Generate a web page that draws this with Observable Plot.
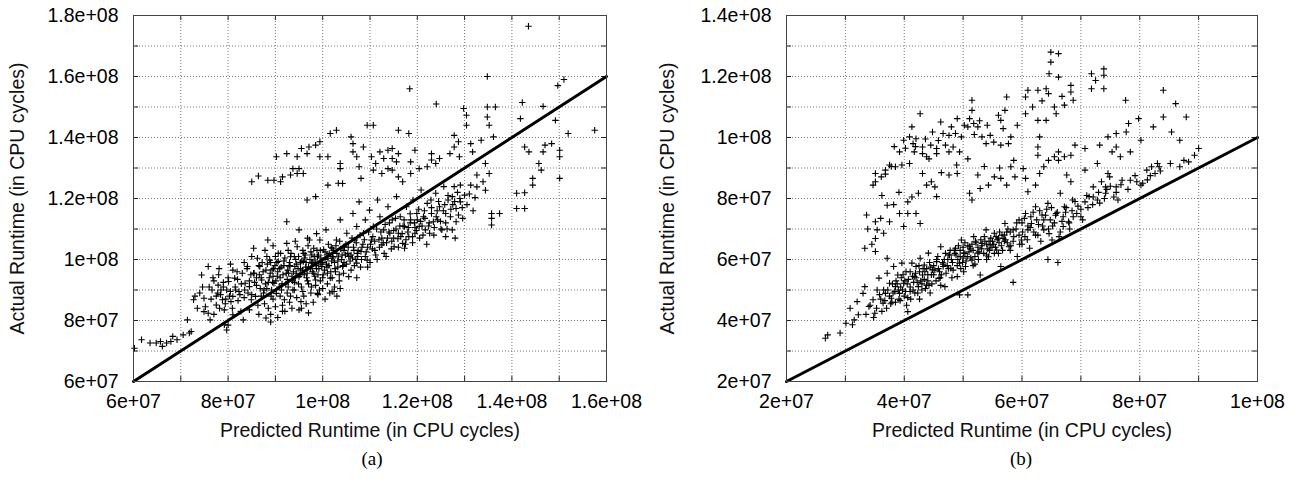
<!DOCTYPE html>
<html><head><meta charset="utf-8">
<script src="https://cdn.jsdelivr.net/npm/d3@7"></script>
<script src="https://cdn.jsdelivr.net/npm/@observablehq/plot@0.6"></script>
<style>
body{margin:0;background:#fff;}
#wrap{position:relative;width:1300px;height:485px;overflow:hidden;background:#fff;}
.panel{position:absolute;top:0;}
.cap{position:absolute;top:448px;font-family:"Liberation Serif","Times New Roman",serif;font-size:19px;transform:translateX(-50%);color:#000;}
</style></head><body>
<div id="wrap">
 <div class="panel" id="pa" style="left:0"></div>
 <div class="panel" id="pb" style="left:650px"></div>
 <div class="cap" style="left:372px">(a)</div>
 <div class="cap" style="left:1021px">(b)</div>
</div>
<script>
// Values in millions of CPU cycles: [predicted, actual]
const pointsA = [
[143.5,176.5],[134.8,160],[118.4,156],[124,151],[129.8,149.5],[134.8,150],[136.5,150],[142.2,151.5],[146.6,150.2],[151,159],[149.7,157],[157.5,142.4],[149.2,145.6],[141.8,146.2],[130.4,147.3],[130.4,144],[127.8,140.7],[128.7,138.6],[134.8,146.7],[135.2,144],[136.1,140.2],[133.5,139.1],[131.3,138],[127.8,136.9],[126.9,134.7],[128.9,133.7],[131.7,135.3],[134.4,131.5],[135.2,128.2],[132.6,127.7],[133.9,125.5],[132.6,123.8],[134.4,122.7],[131.3,124.4],[129.1,124.4],[130,121.1],[132.2,120.3],[129.1,118.9],[128.2,116.7],[128.7,114.6],[128.2,112.4],[127.4,109.7],[126,107.5],[125.2,109.7],[123.4,112.4],[121.7,109.7],[135.7,115.1],[135.7,113.5],[135.7,111.3],[137.4,115.1],[141,121.7],[142.7,121.9],[141,116.7],[142.7,116.7],[144.4,126.6],[144.4,124.4],[145.7,131.5],[146.6,135.3],[147,137.5],[148.4,138],[150.1,135.8],[150.1,133.7],[150.1,126.6],[146.2,129.3],[151.9,141.3],[143.6,135.3],[142.7,136.9],
[85,125.5],[86.4,127.4],[88.4,126],[89.7,126],[91.1,125.5],[91.5,127.1],[93.2,127.7],[94.6,128.2],[93.7,129.8],[95,129.8],[95.9,128.2],[90.2,133.7],[92.4,134.7],[94.6,133.7],[95.5,136.4],[96.7,134.7],[97.1,136.9],[98.5,137.5],[99.4,138.6],[99.4,133.7],[101.1,133.7],[101.6,141.3],[102.9,142.4],[103.7,131.5],[103.7,129.8],[104.2,124.9],[106,140.2],[106.4,138],[106.4,135.3],[107.2,133.7],[107.7,130.4],[108.1,126.6],[108.6,136.9],[109.4,144],[110.7,144],[110.3,133.7],[111.2,131.5],[112.1,135.3],[112.9,133.1],[113.8,135.8],[114.7,136.4],[114.7,133.1],[115.6,132],[116,134.7],[113.8,129.8],[114.7,129.3],[116,127.1],[116.9,125.5],[112.5,128.2],[110.7,129.3],[118.6,128.2],[118.6,132],[120.4,129.8],[122.1,130.4],[123,132.6],[123.9,131.5],[123,134.7],[124.7,133.1],[119.5,135.8],[118.2,141.3],[116,142.4],[96.7,119.5],[98.5,120.6],[101.1,124.4],[103.3,125],
[60.2,70.9],[61.7,73.7],[63.5,72.6],[64.8,72.6],[65.7,73.1],[66.1,71.5],[67,72.6],[67.9,73.1],[68.3,74.8],[69.2,73.7],[70.5,75.3],[71.8,75.9],[72.2,76.4],[71.4,80.2],[72.7,86.8],[74,89],[74.4,94.9],[75.8,97.7],[74.9,87.3],[74.9,82.9],[75.8,82.4],[76.2,80.2],[76.6,90],[77.5,85.1],[77.9,91.6],[78.4,88.5],[78.8,86.8],[79.2,83.5],[79.2,78.6],[79.7,76.9],[79.7,90],[80.1,92.8],[80.6,86.2],[81,87.9],[81,81.9],[81.4,93.9],[81.9,96],[82.3,89.5],[82.7,83],[83.2,80.2],[83.6,92.2],[84.1,97.7],[84.5,91.1],[84.9,86.8],[85.4,103.7],[85.4,95.5],[85.8,87.9],[86.2,100.4],[86.7,97.7],[87.1,93.3],[87.6,90],[88,80.8],[88.4,106.4],[88.8,99.8],[89.3,96.6],[89.7,92.2],[90.2,88.9],[90.6,99.4],[91.1,102],[91.5,83],[91.9,86.8],[92.4,112.4],[92.4,105.3],[92.8,95.5],[93.2,100.9],[93.7,90],[94.1,97.7],[94.6,104.2],[95,109.7],[95,94.4],[95.4,86.2],[95.9,99.3],[96.3,101.5],[96.7,95.5],[97.2,106.4],[97.6,98.8],[98.1,103.7],[98.5,93.3],[98.9,100.9],[98.9,88.9],[99.4,106.4],[99.8,97.7],[100.2,103.2],[100.7,109.7],[101.1,100.4],[101.6,93.9],[102,103.7],[102.4,89.5],[102.9,106.4],[103.3,100.9],[103.7,113],[104.2,97.7],[104.6,104.2],[105.1,108.6],[105.5,94.4],[106,101.5],[106.4,115.1],[106.8,106.4],[107.2,110.8],[107.2,98.8],[107.7,118.9],[108.1,102.6],[108.6,108.6],[109,113],[109.4,99.8],[109.9,116.2],[110.3,106.4],[110.7,110.8],[111.2,101.5],[111.6,119.5],[112.1,114],[112.5,104.8],[112.9,109.7],[113.4,101],[113.8,117.3],[114.2,108.6],[114.7,113],[115.1,104.2],[115.6,120.6],[116,108.6],[116.4,114],[116.9,105.3],[117.3,110.8],[117.7,117.3],[118.2,107.5],[118.6,113],[119.1,119.5],[119.5,108.6],[119.9,115.1],[120.4,110.8],[120.8,122.8],[121.3,114],[122.1,118.4],[122.6,108.6],[123,115.1],[123.9,121.7],[124.3,113],[124.7,117.3],[125.6,123.9],[126,115.1],[126.5,119.5],[127.4,120.6],[127.8,123.9],
[103.7,90.5],[102,89.5],[107.2,94],[117.3,103.7],[95.5,84],[97,82.5],[89,79.5],[86.5,82],[84.5,83.5],[80,78.5],
[90.5,96],[91,94],[91.8,98],[92.2,92],[92.6,96.5],[93,99],[93.5,94.5],[94,92.5],[94.3,100],[94.8,97],[95.2,95],[95.6,99.5],[96,102],[96.4,97.5],[96.8,93],[97.3,100],[97.8,96],[98.2,101],[98.6,98],[99,95],[99.5,103],[100,99],[100.4,96.5],[100.9,101.5],[101.3,98],[101.8,104],[102.2,100.5],[102.6,97],[103,102],[103.5,95],[104,100],[104.5,103],[105,98.5],[105.5,101],[106,96.5],[106.5,104],[107,100],[107.5,103],[108,97.5],[108.5,105],[109,101],[109.5,104],[110,99],[110.5,103.5],[111,106],[111.5,100],[112,104],[112.5,107],[113,102],[113.5,105.5],[114,109],[114.5,103.5],[115,107],[115.5,110],[116,104],[116.5,107.5],[117,111],[117.5,105],[118,109],[118.5,112],[119,105.5],[119.5,110.5],[120,113],[120.5,107],[121,111],[121.5,116],[122,105],[122.5,112],[123,117],[123.5,108],[124,114],[124.5,119],[125,110],[125.5,116],[126,112],[126.5,121],[127,114],[127.5,118],[128,107],[129,120],[129.5,117],
[88.5,84],[89,82],[89.5,87],[90,84.5],[90.5,81],[91,88],[91.5,85],[92,83],[92.5,89],[93,86],[93.5,84],[94,90],[94.5,87.5],[95,83.5],[95.5,91],[96,88],[96.5,85.5],[97,92],[97.5,89],[98,86],[98.5,91.5],[99,88.5],[99.5,93],[100,90.5],[100.5,87],[101,92],[101.5,89],[102,94],[102.5,91],[103,88],[103.5,93],
[76,91],[77,93],[77.5,88],[78,95],[78.5,90],[79,92.5],[79.5,87],[80,94],[80.5,89.5],[81,96.5],[81.5,91],[82,93.5],[82.5,88.5],[83,95.5],[83.5,90],[84,97],[84.5,93],[85,88.5],[85.5,95.5],[86,91.5],[86.5,98],[87,94],[87.5,89],[88,96.5],[88.5,92.5],[89,99],[89.5,94.5],[90,101],
[86,94],[86.8,90.5],[87.4,96],[87.9,92],[88.3,98.5],[88.7,94],[89.2,90],[89.6,97],[90.1,93],[90.3,99],[90.8,91],[91.2,97.5],[91.6,95],[92,100.5],[92.5,93.5],[92.9,97.8],[93.3,102],[93.8,96],[94.2,94],[94.5,98.5],[94.9,101],[95.3,97],[95.8,103],[96.1,95],[96.5,99],[96.9,104.5],[97.4,97],[97.7,101.5],[98.1,95.5],[98.4,99.5],[98.8,103],[99.2,97],[99.6,100.5],[100.1,95],[100.5,102.5],[100.8,98.5],[101.2,105],[101.7,96],[102.1,101],[102.5,99],[102.8,104.5],[103.2,97.5],[103.6,106],[104.1,101.5],[104.5,99],[104.9,105],[105.3,102],[105.8,99.5],[106.2,107],[106.6,103],[107.1,105.5],[107.4,101],[107.9,108],[108.3,104],[108.8,106.5],[109.2,102.5],[109.7,109],[110.1,105],[110.6,107.5],[111,103],[111.4,110],[111.9,106.5],[112.3,109],[112.8,105.5],[113.2,111.5],[113.7,107],[114.1,112],[114.6,106],[115,109.5],[115.4,113.5],[115.9,106.8],[116.3,111],[116.8,108.5],[117.2,113],[117.6,106.5],[118.1,110.5],[118.5,115],[119,107.5],[119.4,112],[119.8,109.5],[120.3,116.5],[120.7,112.5],[121.2,108],[121.6,113.5],[122.4,111],[122.9,119.5],[123.6,110.5],[124.2,116],[124.9,112.5],[125.8,118],[126.3,110],[127.1,116.5],[127.9,119],[128.5,122],[129.6,113.5],[130.5,118],[131,121.5],[131.8,116],
[75.2,84.5],[76.4,87],[77,82],[77.8,89],[78.2,84],[79,91],[79.4,85.5],[80.3,88],[80.9,84],[81.6,90],[82.1,86.5],[82.8,92],[83.4,87.5],[84.2,89],[84.8,95],[85.6,92.5],[86.3,85],[87,88],[87.7,85.5],[88.2,90.5],[73.5,84],[73,88],[74.6,91],[76.8,94],[78.1,97],[80.5,98.5],[83.4,99],[85,101],[87.8,103],[89.5,104.5],
[88.9,95.5],[89.4,92.5],[89.9,98],[90.4,94.5],[90.9,97],[91.4,92],[91.8,99.5],[92.3,95.5],[92.7,91],[93.1,98],[93.6,93],[94,101],[94.4,95.5],[94.9,92],[95.3,99],[95.7,96.5],[96.2,100.5],[96.6,94],[97,97.5],[97.5,102.5],[97.9,99],[98.3,94.5],[98.7,97],[99.1,101.5],[99.6,98.5],[100,94],[100.5,100],[100.9,97.5],[101.4,102],[101.9,99.5],[102.3,103],[102.7,96],[103.2,99.5],[103.8,103.5],[104.3,98],[104.8,101.5],[105.4,104],[106.3,100.5],[107.3,102],[108.2,100],[96.8,107],[98.7,108.5],[94.2,106],[92.7,103],[90.6,102],[88.2,101],[87.2,99],[86.6,95],[89.1,88],[91.3,90],[93.2,88],[95.8,89.5],[97.6,91],[99.3,90],[101,95.5],[104.4,95.5],[106.7,98],[109.5,97.5]
];

const pointsB = [
[64.9,128],[64.9,124.7],[66.2,127.5],[71.8,120.9],[72.5,118.7],[73.9,122.5],[73.9,120.4],[71.8,116],[73.9,116],[64.6,120.9],[66.2,119.8],[68.3,117.1],[68.3,114.9],[68.7,112.2],[67.2,110.6],[65.5,110],[65.8,107.8],[62.7,115.5],[61,115.5],[60.6,113.3],[64.1,116],[64.5,114.4],[64.1,105.6],[62.7,105.6],[60.6,107.8],[57.4,113.3],[57.1,108.9],[56,107.3],[56.4,105.6],[56.8,102.9],[58.1,100.2],[51.5,112.2],[51.5,108.9],[51.1,106.2],[51.8,104.6],[50.8,103.5],[52.5,103.5],[49,106.2],[48.7,101.3],[49.7,100.2],[53.2,100.2],[54.6,100.7],[53.9,98],[56.4,97.5],[47.6,100.7],[46.6,101.3],[46.2,105.1],[44.8,101.8],[42.7,107.8],[41.3,103.5],[40.9,100.2],[42,99.6],[39.9,99.1],[41.5,98],[43.1,96.9],[44.5,97.5],[45.5,96.4],[41.7,95.3],[43.1,94.7],[43.8,93.7],[45.5,94.7],[47.6,95.3],[48.3,96.9],[49.4,95.3],[39.2,95.3],[40.9,91.5],[39.6,91],[38.5,90.4],[37.5,91],[36.8,89.3],[36.1,87.1],[35.1,88.2],[35.1,85.5],[34.7,84.4],[43.1,88.2],[43.8,84.4],[45.2,83.8],[45.5,80.6],[42.4,81.7],[40.6,78.9],[40.6,75.1],[42,75.1],[42.7,71.8],[39.9,70.8],[39.2,75.1],[37.1,77.8],[37.5,72.4],[36.5,68.6],[35.1,72.4],[35.1,66.9],[35.4,69.7],[33.6,74.6],[33.3,63.7],[37.1,60.4],[35.1,62.6],
[47.6,87.7],[49,88.2],[51.1,81.7],[51.5,79.5],[52.9,83.3],[52.5,87.7],[54.3,84.4],[55.3,87.1],[56.4,86.6],[57.4,84.4],[58.1,90.4],[58.8,87.1],[60.2,89.8],[60.6,86.6],[62.3,84.4],[61,82.2],[63,88.2],[63.7,90.4],[64.5,92.5],[65.5,93.7],[66.2,95.3],[66.2,92.5],[67.2,93.7],[68.3,94.2],[69,97.5],[70.7,96.4],[73.2,97.5],[74.6,100.2],[76,101.3],[77.7,101.8],[78.1,104.6],[79.8,106.2],[82.3,103.5],[84,106.7],[84,115.5],[86.1,111.1],[87.9,106.7],[85.4,101.8],[86.8,99.1],[80.2,99.1],[76,96.9],[77.6,112.2],[63,100.2],[62.7,96.9],[62.7,94.2],[67.6,87.7],[68.3,85.5],[70.7,89.3],[72.8,91.5],[75.3,95.3],[76.7,93.7],[74.2,83.8],[74.6,88.2],[81.3,86.1],[80.2,84.4],[82,90.4],[83,91.5],[89.3,94.2],[90,96.4],[88.3,92],
[26.6,34.2],[27,35.3],[29.1,35.9],[30.1,39.1],[31.2,38.6],[31.5,40.2],[32.2,41.9],[30.8,44],[32,46.2],[33,48.9],[33.3,51.1],[34,44.6],[34.7,46.8],[35,42.4],[35.4,50],[35.7,53.9],[36.4,45.7],[36.8,48.9],[37.1,55.5],[37.5,52.2],[37.8,47.3],[38.2,57.7],[38.5,51.1],[38.9,54.9],[39.2,48.9],[39.6,58.8],[39.9,52.2],[40.3,56],[40.6,42.9],[41,49.5],[41.3,58.8],[41.7,54.4],[42,57.7],[42.4,51.1],[42.7,60.4],[43.1,54.9],[43.4,58.2],[43.8,51.6],[44.1,62.1],[44.8,56.6],[45.5,59.3],[45.9,53.8],[46.2,64.2],[46.6,57.7],[46.9,51.1],[47.6,61.5],[47.9,57.1],[48.7,63.7],[49,54.4],[49.4,58.8],[49.7,66.4],[50.1,62.1],[50.4,57.7],[50.8,48.4],[51.1,64.2],[51.5,59.8],[51.8,67.5],[52.5,62.1],[52.9,54.9],[53.2,65.3],[53.9,69.7],[54.3,60.9],[54.6,64.8],[55.3,68.6],[55.7,63.1],[56.4,57.7],[56.8,66.9],[57.1,71.8],[57.8,64.2],[58.5,69.7],[58.5,52.5],[59.2,61],[59.5,73],[59.9,66.4],[60.6,75.1],[61,69.7],[61.3,63.7],[61.6,71.8],[62.3,77.3],[62.7,68],[63.4,74.6],[63.7,69.7],[64.4,60],[64.4,78.4],[64.8,73],[65.1,66.4],[65.8,75.1],[66.1,59],[66.5,81.7],[67,70.8],[67.2,77.3],[67.9,72.4],[68.6,79.5],[69.3,75.1],[70,74],[70.7,78.9],[71.4,80.6],[72.1,83.8],[72.8,79.5],[73.5,85.5],[74.2,81.7],[74.9,87.1],[76,83.8],[76.3,79.5],[78.4,86],[79.5,85.5],[81.2,89.3],[82.6,88.2],[83.3,90.4],[86.8,90.4],[78.4,95.3],[49.4,48.4],
[36,47],[36.5,50],[37,44],[37.5,48],[38,52],[38.5,46],[39,50],[39.5,54],[40,48],[40.5,52],[41,56],[41.5,50],[42,54],[42.5,58],[43,52],[43.5,56],[44,53],[44.5,57.5],[45,55],[45.5,60],[46,56],[46.5,59],[47,62],[47.5,57],[48,60],[48.5,63],[49,58],[49.5,61],[50,64],[50.5,59.5],[51,62.5],[51.5,65],[52,61],[52.5,64],[53,66.5],[53.5,62],[54,65],[54.5,63],[55,66],[55.5,64],[56,67],[56.5,64.5],[57,68],[57.5,65.5],[58,69],[58.5,66],[59,70],[59.5,68],[60,72],[60.5,67.5],[61,71],[61.5,74],[62,69],[62.5,73],[63,76],[63.5,71],[64,74.5],[64.5,70],[65,77],[65.5,72],[66,75.5],[66.5,69],[67,74],[67.5,77],[68,72],[68.5,76],[69,79],[70,76.5],[71,81],[72,78],[73,82],[74,80],[75,84],[76,82],[77,86],
[33.5,42],[34.2,45],[34.8,41],[35.3,44],[35.8,48.5],[36.2,43],[36.7,46.5],[37.2,50],[37.7,45.5],[38.1,49],[38.6,53],[39.1,47],[39.4,51],[39.8,55],[40.2,49.5],[40.7,53.5],[41.1,47],[41.6,52.5],[41.9,55.5],[42.3,49],[42.8,53],[43.2,57],[43.6,50.5],[44,55],[44.3,59],[44.7,52],[45.2,56.5],[45.7,61],[46.1,54],[46.6,58.5],[47.1,55.5],[47.4,60],[47.8,63],[48.3,56.5],[48.8,61.5],[49.2,64.5],[49.6,57],[50,60.5],[50.3,65.5],[50.7,61],[51.2,63.5],[51.7,58],[52.1,66],[52.6,60],[53.1,63.5],[53.6,67.5],[54,61.5],[54.4,66],[54.9,64],[55.3,62],[55.8,66.5],[56.2,69],[56.7,63],[57.2,66.5],[57.6,70],[58.1,64.5],[58.6,67.5],[59.1,72],[59.6,65],[60.1,69],[60.4,73.5],[60.9,66.5],[61.4,70.5],[61.9,75.5],[62.3,68],[62.8,71.5],[63.2,66],[63.7,73],[64.2,76.5],[64.6,68.5],[65.2,71],[65.7,74.5],[66.3,67.5],[66.8,72.5],[67.4,75.5],[68.1,70],[68.7,74],[69.5,77.5],[70.3,73],[71.2,77],[72.1,80.5],[73.2,78.5],[74.4,83],[75.6,80.5],[76.8,84.5],[78,83],[79.2,87.5],[80.5,85],[81.8,87.5],[83.5,89],[85.2,91.5],[87.5,92.5],
[36.8,88],[37.8,90.5],[38.3,97],[40.2,96.5],[41.9,97],[43.6,99.5],[44.2,93],[45.8,99],[47,97.5],[48,103.5],[50.2,104],[51.9,101],[52.8,105.5],[54.1,104],[55.2,98.5],[57.7,98],[59.2,104],[61.8,110],[63.4,112],[66.8,113.5],[58.6,92.5],[56.2,90],[53.6,90.5],[50.8,93],[48.9,91],[46.3,88.5],[44.6,85.5],[39.1,82],[38.2,78],[36.2,81],[41.3,80.5],[34.5,65],[33.8,70],[36,73.5],
[37.9,46],[38.4,49.5],[38.8,52],[39.3,46.5],[39.7,50],[40.1,53],[40.6,47.5],[41,51],[41.4,54.5],[41.8,49],[42.2,52.5],[42.6,56],[43,50],[43.4,53.5],[43.8,57],[44.2,51.5],[44.6,55],[45,58],[45.4,53],[45.8,57],[46.3,55],[46.8,60],[47.3,58],[47.7,61.5],[48.2,59],[48.6,62],[49.1,60],[49.5,63],[49.9,59],[50.3,62],[50.8,64.5],[51.3,60.5],[51.7,63],[52.2,65.5],[52.7,62.5],[53.2,64.5],[53.7,66],[54.2,63.5],[54.7,67],[55.2,65],[55.6,67.5],[56.1,65.5],[56.6,68],[57,66],[57.4,69],[40.4,45],[42.6,47],[44.4,49],[46.2,51.5],[48.1,54],[50.1,56],[52,58.5],[54,60],[56,62],[58,63],[60,65]
];

// Axis ticks (millions) and labels
const xTicksA = [60, 80, 100, 120, 140, 160];
const xLabelsA = ["6e+07", "8e+07", "1e+08", "1.2e+08", "1.4e+08", "1.6e+08"];
const yTicksA = [60, 80, 100, 120, 140, 160, 180];
const yLabelsA = ["6e+07", "8e+07", "1e+08", "1.2e+08", "1.4e+08", "1.6e+08", "1.8e+08"];
const xTicksB = [20, 40, 60, 80, 100];
const xLabelsB = ["2e+07", "4e+07", "6e+07", "8e+07", "1e+08"];
const yTicksB = [20, 40, 60, 80, 100, 120, 140];
const yLabelsB = ["2e+07", "4e+07", "6e+07", "8e+07", "1e+08", "1.2e+08", "1.4e+08"];
const xDomA = [60, 160], yDomA = [60, 180];
const xDomB = [20, 100], yDomB = [20, 140];
const xTitle = "Predicted Runtime (in CPU cycles)";
const yTitle = "Actual Runtime (in CPU cycles)";

const plusSymbol = {
  draw(ctx, size) {
    const r = Math.sqrt(size / Math.PI);
    ctx.moveTo(-r, 0); ctx.lineTo(r, 0);
    ctx.moveTo(0, -r); ctx.lineTo(0, r);
  }
};

function steps(dom, step) {
  const out = [];
  for (let v = dom[0]; v <= dom[1] + 1e-9; v += step) out.push(v);
  return out;
}

function panel(el, pts, xDom, yDom, xT, xL, yT, yL, ml, mr) {
  const W = 650, H = 445, mt = 15, mb = 64;
  const pw = W - ml - mr, ph = H - mt - mb;
  const xMinor = steps(xDom, 10), yMinor = steps(yDom, 10);
  const xInner = xMinor.slice(1, -1), yInner = yMinor.slice(1, -1);
  const lo = Math.max(xDom[0], yDom[0]);
  const diag = [[lo, lo], [xDom[1], xDom[1]]];
  const font = "'Liberation Sans', Arial, Helvetica, sans-serif";
  const fs = 19.5;
  const svg = Plot.plot({
    width: W, height: H,
    marginLeft: ml, marginRight: mr, marginTop: mt, marginBottom: mb,
    style: {fontFamily: font, fontSize: fs + "px", background: "#fff", color: "#000", overflow: "visible"},
    x: {domain: xDom, label: null},
    y: {domain: yDom, label: null},
    marks: [
      Plot.ruleX(xInner, {x: d => d, stroke: "#777", strokeWidth: 1, strokeDasharray: "1,2"}),
      Plot.ruleY(yInner, {y: d => d, stroke: "#777", strokeWidth: 1, strokeDasharray: "1,2"}),
      Plot.tickX(xMinor, {x: d => d, insetTop: ph - 5, stroke: "#222"}),
      Plot.tickX(xMinor, {x: d => d, insetBottom: ph - 5, stroke: "#222"}),
      Plot.tickY(yMinor, {y: d => d, insetRight: pw - 5, stroke: "#222"}),
      Plot.tickY(yMinor, {y: d => d, insetLeft: pw - 5, stroke: "#222"}),
      Plot.axisX(xT, {tickSize: 0, tickPadding: 13, tickFormat: d => xL[xT.indexOf(d)], fontSize: fs, label: null}),
      Plot.axisY(yT, {tickSize: 0, tickPadding: 15, tickFormat: d => yL[yT.indexOf(d)], fontSize: fs, label: null}),
      Plot.dot(pts, {x: d => d[0], y: d => d[1], symbol: plusSymbol, r: 3.2, stroke: "#000", strokeWidth: 1.1}),
      Plot.line(diag, {x: d => d[0], y: d => d[1], stroke: "#000", strokeWidth: 3}),
      Plot.frame({stroke: "#444", strokeWidth: 1}),
      Plot.text([xTitle], {frameAnchor: "bottom", lineAnchor: "middle", dy: 49, fontSize: fs, fill: "#111"}),
      Plot.text([yTitle], {frameAnchor: "left", textAnchor: "middle", lineAnchor: "middle", rotate: -90, dx: -(ml - 17), fontSize: fs, fill: "#111"})
    ]
  });
  document.getElementById(el).appendChild(svg);
}

panel("pa", pointsA, xDomA, yDomA, xTicksA, xLabelsA, yTicksA, yLabelsA, 133, 44);
panel("pb", pointsB, xDomB, yDomB, xTicksB, xLabelsB, yTicksB, yLabelsB, 136, 43);
</script>
</body></html>
